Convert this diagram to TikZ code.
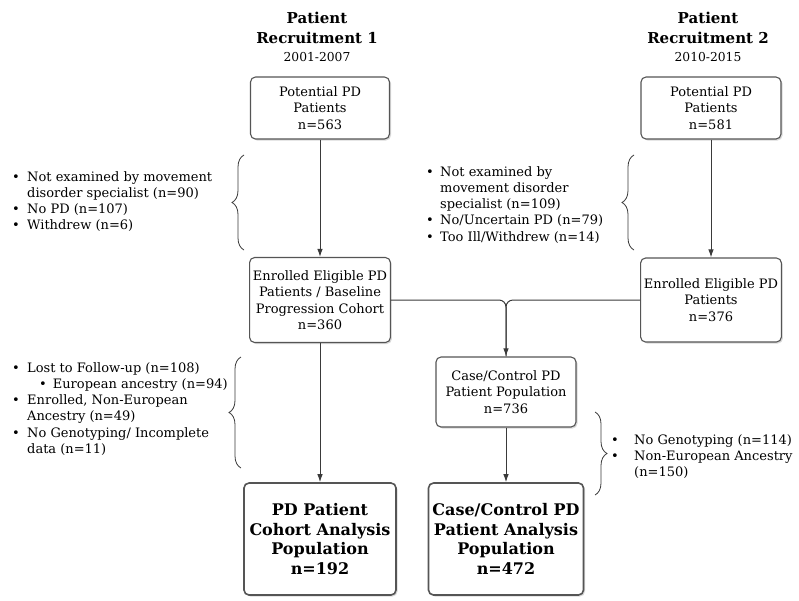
\documentclass[tikz,border=0pt]{standalone}
\usepackage{fontspec}
\setmainfont{DejaVu Serif}
\usetikzlibrary{arrows.meta,shadows,decorations.pathreplacing}
\definecolor{boxgray}{HTML}{555555}
\definecolor{linegray}{HTML}{3A3A3A}
\newcommand{\bul}{\textbullet}

\tikzset{
  box/.style={draw=boxgray, line width=1.1pt, rounded corners=5pt, fill=white, align=center,
    font=\fontsize{13}{16.5}\selectfont,
    drop shadow={shadow xshift=1.5pt, shadow yshift=-1.5pt, opacity=0.3}},
  bigbox/.style={box, line width=1.6pt, font=\bfseries\fontsize{16}{19.5}\selectfont},
  head/.style={align=center, inner sep=0pt, font=\bfseries\fontsize{15}{20}\selectfont},
  years/.style={inner sep=0pt, font=\fontsize{12.3}{14}\selectfont},
  flow/.style={draw=linegray, line width=1pt, -{Latex[length=8pt,width=5.5pt]}},
  plain/.style={draw=linegray, line width=1pt},
  curly/.style={draw=linegray, line width=0.8pt, decorate, decoration={brace, amplitude=12pt}},
  notes/.style={anchor=base west, inner sep=0pt, font=\fontsize{13}{16.3}\selectfont}
}

\begin{document}
\begin{tikzpicture}[x=1pt, y=-1pt]
\useasboundingbox (0,0) rectangle (799,600);

\node[head] (rec1) at (317,28) {Patient\\Recruitment 1};
\node[years] (yr1) at (317,57) {2001-2007};
\node[head] (rec2) at (708,28) {Patient\\Recruitment 2};
\node[years] (yr2) at (708,57) {2010-2015};

\node[box, minimum width=139pt, minimum height=62pt] (pot1) at (320,108) {Potential PD\\Patients\\n=563};
\node[box, minimum width=140pt, minimum height=62pt] (pot2) at (711,108) {Potential PD\\Patients\\n=581};
\node[box, minimum width=138pt, minimum height=85pt] (enr1) at (320,300) {Enrolled Eligible PD\\Patients / Baseline\\Progression Cohort\\n=360};
\node[box, minimum width=139pt, minimum height=84pt] (enr2) at (711,300) {Enrolled Eligible PD\\Patients\\n=376};
\node[box, minimum width=140pt, minimum height=70pt] (cc) at (506,392) {Case/Control PD\\Patient Population\\n=736};
\node[bigbox, minimum width=152pt, minimum height=112pt] (coh) at (320,539) {PD Patient\\Cohort Analysis\\Population\\n=192};
\node[bigbox, minimum width=155pt, minimum height=112pt] (cca) at (506,539) {Case/Control PD\\Patient Analysis\\Population\\n=472};

\draw[flow] (pot1) -- (enr1);
\draw[flow] (pot2) -- (enr2);
\draw[flow, rounded corners=7pt] (enr1.east) -| (cc.north);
\draw[plain, rounded corners=7pt] (enr2.west) -| (cc.north);
\draw[flow] (enr1) -- (coh);
\draw[flow] (cc) -- (cca);

\coordinate (b1s) at (244,250); \coordinate (b1e) at (244,155);
\coordinate (b2s) at (634,250); \coordinate (b2e) at (634,155);
\coordinate (b3s) at (241,468); \coordinate (b3e) at (241,357);
\coordinate (b4s) at (595,412); \coordinate (b4e) at (595,495);
\draw[curly] (b1s) -- (b1e);
\draw[curly] (b2s) -- (b2e);
\draw[curly] (b3s) -- (b3e);
\draw[curly] (b4s) -- (b4e);

\node[notes] (ex1) at (12,181) {\begin{tabular}[t]{@{}p{15pt}@{}l@{}}
\bul & Not examined by movement\\
 & disorder specialist (n=90)\\
\bul & No PD (n=107)\\
\bul & Withdrew (n=6)
\end{tabular}};
\node[notes] (ex2) at (426,176) {\begin{tabular}[t]{@{}p{14pt}@{}l@{}}
\bul & Not examined by\\
 & movement disorder\\
 & specialist (n=109)\\
\bul & No/Uncertain PD (n=79)\\
\bul & Too Ill/Withdrew (n=14)
\end{tabular}};
\node[notes] (ex3) at (12,372) {\begin{tabular}[t]{@{}p{15pt}@{}l@{}}
\bul & Lost to Follow-up (n=108)\\
 & \hspace{12pt}\bul\hspace{6pt}European ancestry (n=94)\\
\bul & Enrolled, Non-European\\
 & Ancestry (n=49)\\
\bul & No Genotyping/ Incomplete\\
 & data (n=11)
\end{tabular}};
\node[notes] (ex4) at (611,444) {\begin{tabular}[t]{@{}p{23pt}@{}l@{}}
\bul & No Genotyping (n=114)\\
\bul & Non-European Ancestry\\
 & (n=150)
\end{tabular}};
\end{tikzpicture}
\end{document}
